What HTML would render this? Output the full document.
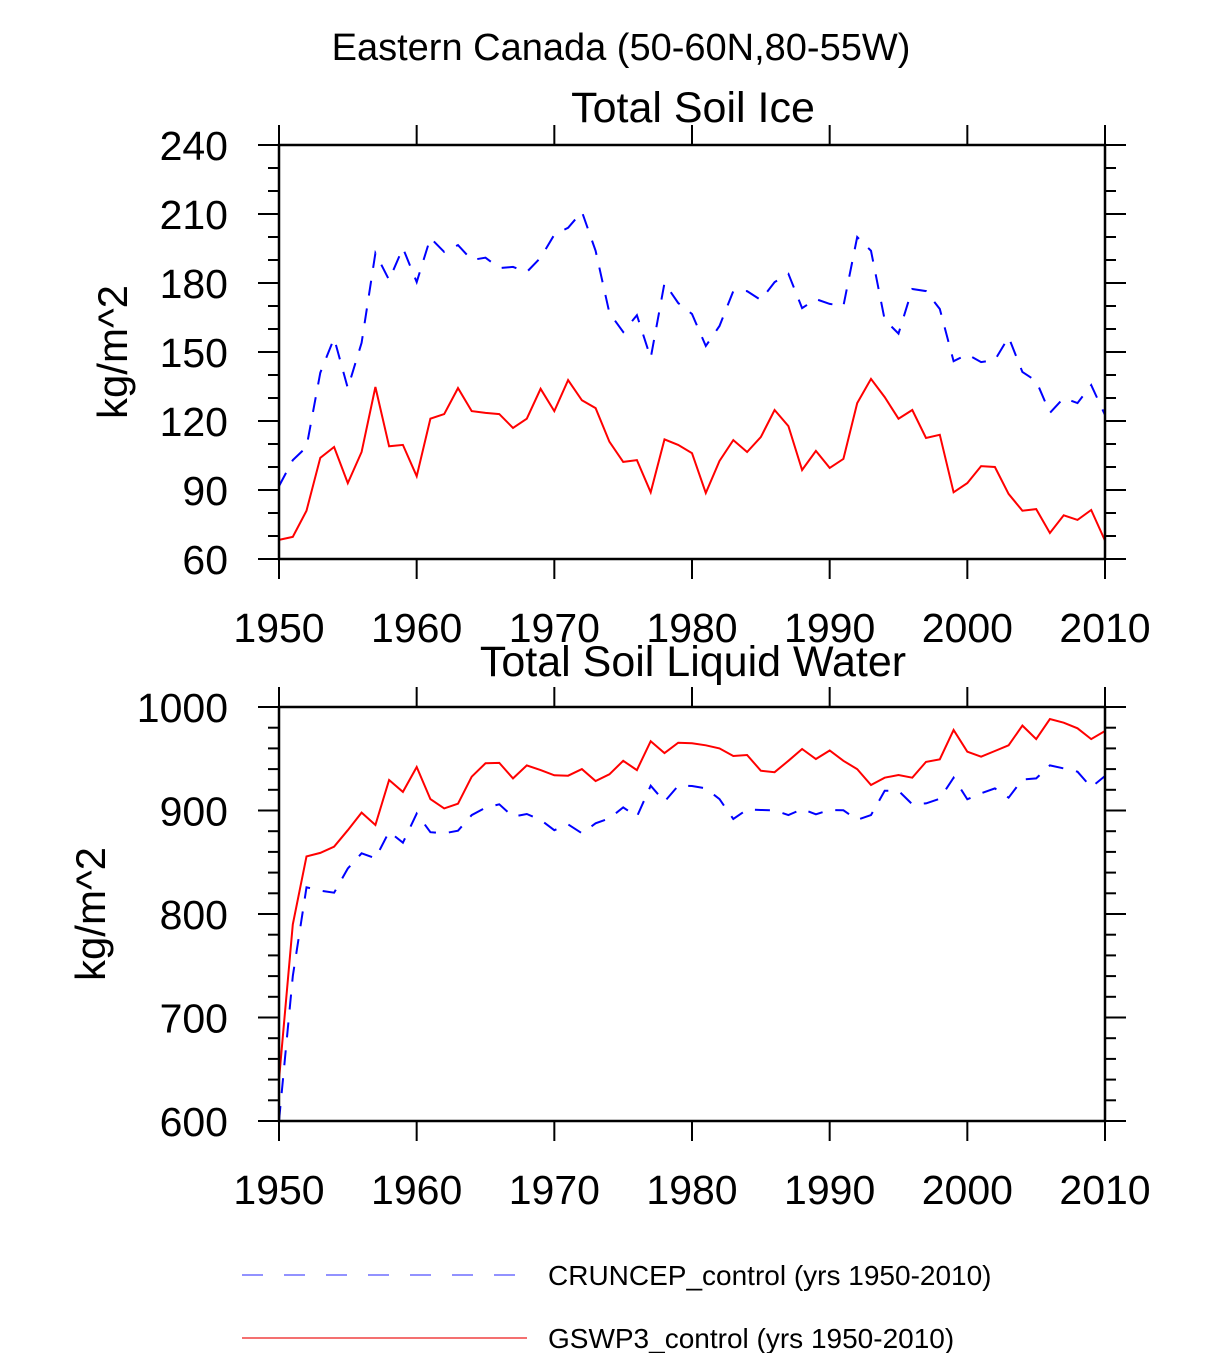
<!DOCTYPE html>
<html><head><meta charset="utf-8"><style>
html,body{margin:0;padding:0;background:#fff;width:1224px;height:1353px;overflow:hidden}
svg{display:block;font-family:"Liberation Sans",Arial,sans-serif}
</style></head><body>
<svg id="chart" width="1224" height="1353" xmlns="http://www.w3.org/2000/svg">
<text x="621" y="60" font-size="38" text-anchor="middle">Eastern Canada (50-60N,80-55W)</text>
<g id="legend">
<line x1="242" y1="1275" x2="516" y2="1275" stroke="#6f6fff" stroke-width="1.6" stroke-dasharray="21 21"/>
<text x="548" y="1285" font-size="28">CRUNCEP_control (yrs 1950-2010)</text>
<line x1="242" y1="1338" x2="527" y2="1338" stroke="#f04040" stroke-width="1.6"/>
<text x="548" y="1348" font-size="28">GSWP3_control (yrs 1950-2010)</text>
</g>
</svg>
<script>
const years = [];
for (let y = 1950; y <= 2010; y++) years.push(y);
const xTicks = [1950,1960,1970,1980,1990,2000,2010];
const iceTicks = [60,90,120,150,180,210,240];
const liqTicks = [600,700,800,900,1000];
const iceCruncep = [91.7,103,108.7,141,156,134.3,154,193,181.3,195.2,180.4,199.6,193.5,196.5,190,191,186.5,187,184.8,191,201,204,211,194,167,158.7,166,147.4,180,171.3,166.5,152.6,161.3,176.5,176.5,172.6,180.4,184,169.1,173,170.9,170,200,194,164,158,177.4,176.5,168.7,146,149,145.6,146.5,156.5,141.3,137.4,123.5,130,127.8,135.6,122.6];
const iceGswp3 = [68.3,69.6,81,104,108.7,93,106.5,134.8,109,109.6,96,121,123,134.3,124.3,123.5,123,117,121,134,124.3,137.8,129,125.6,111,102.2,103,89,112,109.6,106,88.7,102.6,111.7,106.5,113,124.8,117.8,98.7,107,99.6,103.5,127.8,138.3,130.4,121,124.8,112.6,114,89,93,100.4,100,88.3,81,81.7,71.3,79,77,81.3,68];
const liqCruncep = [600,740,825.8,822.6,820.6,844,858.6,853.8,879.5,868.9,897,879,878,880.5,895.6,902.7,906,894,896.6,891,881,886.6,878,887.6,892.4,903,894,924,908.5,924,923.7,921.4,911,891.8,901,900.5,900.2,895.6,901.4,896.3,900.5,900.2,891,895.6,919,919,906,906.9,911.4,931.7,910.8,916.6,921.4,912.4,930,931,943.6,940.7,937.5,922.4,933.3];
const liqGswp3 = [640,790,855.7,859,865,881,898,886,929.5,918,942,911,902,906.6,932.7,945.6,946,931,943.6,939,934,933.6,940,928.5,935,948,939,967,955.5,965.5,965,963,960,952.7,953.6,938.5,937,948,959.4,949.8,958,948,940,924.6,931.7,934.3,931.7,947,949.5,977.8,956.8,952,957.5,963,982,969,988.4,984.8,979.4,969,976.8];

const svg = document.getElementById('chart');
const NS = 'http://www.w3.org/2000/svg';
function mk(tag, attrs, parent){const e=document.createElementNS(NS,tag);for(const k in attrs)e.setAttribute(k,attrs[k]);(parent||svg).appendChild(e);return e;}

function panel(cfg){
  const {top,bottom,ymin,ymax,ticks,minorStep,title,titleY,ytitleX,series,name} = cfg;
  const L=279,R=1105;
  const g = mk('g',{});
  
  
  const xs = v => L + (v-1950)/(2010-1950)*(R-L);
  const ys = v => bottom - (v-ymin)/(ymax-ymin)*(bottom-top);
  const t = mk('text',{x:693,y:titleY,'font-size':43,'text-anchor':'middle'},g);
  t.textContent = title;
  
  
  for(let v=ymin; v<=ymax+1e-6; v+=minorStep){
    const y=ys(v);
    const major = ticks.includes(Math.round(v));
    const len = major?21:11;
    mk('line',{x1:L-len,y1:y,x2:L,y2:y,stroke:'#000','stroke-width':2},g);
    mk('line',{x1:R,y1:y,x2:R+len,y2:y,stroke:'#000','stroke-width':2},g);
  }
  ticks.forEach(v=>{
    const lb = mk('text',{x:228,y:ys(v)+15,'font-size':41,'text-anchor':'end'},g);
    lb.textContent = v;
    
    
  });
  xTicks.forEach(v=>{
    const x=xs(v);
    mk('line',{x1:x,y1:top-20,x2:x,y2:top,stroke:'#000','stroke-width':2},g);
    mk('line',{x1:x,y1:bottom,x2:x,y2:bottom+20,stroke:'#000','stroke-width':2},g);
    const lb = mk('text',{x:x,y:bottom+83,'font-size':41,'text-anchor':'middle'},g);
    lb.textContent = v;
    
    
  });
  const yt = mk('text',{x:0,y:0,'font-size':42,'text-anchor':'middle',transform:`translate(${ytitleX},${(top+bottom)/2}) rotate(-90)`},g);
  yt.textContent = 'kg/m^2';
  
  
  series.forEach(s=>{
    const d = s.vals.map((v,i)=>(i?'L':'M')+xs(years[i]).toFixed(1)+','+ys(v).toFixed(1)).join(' ');
    const p = mk('path',{d:d,fill:'none',stroke:s.color,'stroke-width':2,'stroke-dasharray':s.dash||'none'},g);
    
    
  });
  const fr = mk('rect',{x:L,y:top,width:R-L,height:bottom-top,fill:'none',stroke:'#000','stroke-width':2.5},g);
  
  
}
panel({top:145,bottom:559,ymin:60,ymax:240,ticks:iceTicks,minorStep:10,title:'Total Soil Ice',titleY:122,ytitleX:127,name:'soil-ice-panel',
  series:[{vals:iceCruncep,color:'#0000ff',dash:'15 13',name:'line-ice-cruncep'},{vals:iceGswp3,color:'#ff0000',name:'line-ice-gswp3'}]});
panel({top:707,bottom:1121,ymin:600,ymax:1000,ticks:liqTicks,minorStep:20,title:'Total Soil Liquid Water',titleY:676,ytitleX:105,name:'soil-liquid-panel',
  series:[{vals:liqCruncep,color:'#0000ff',dash:'15 13',name:'line-liquid-cruncep'},{vals:liqGswp3,color:'#ff0000',name:'line-liquid-gswp3'}]});
</script>
</body></html>
